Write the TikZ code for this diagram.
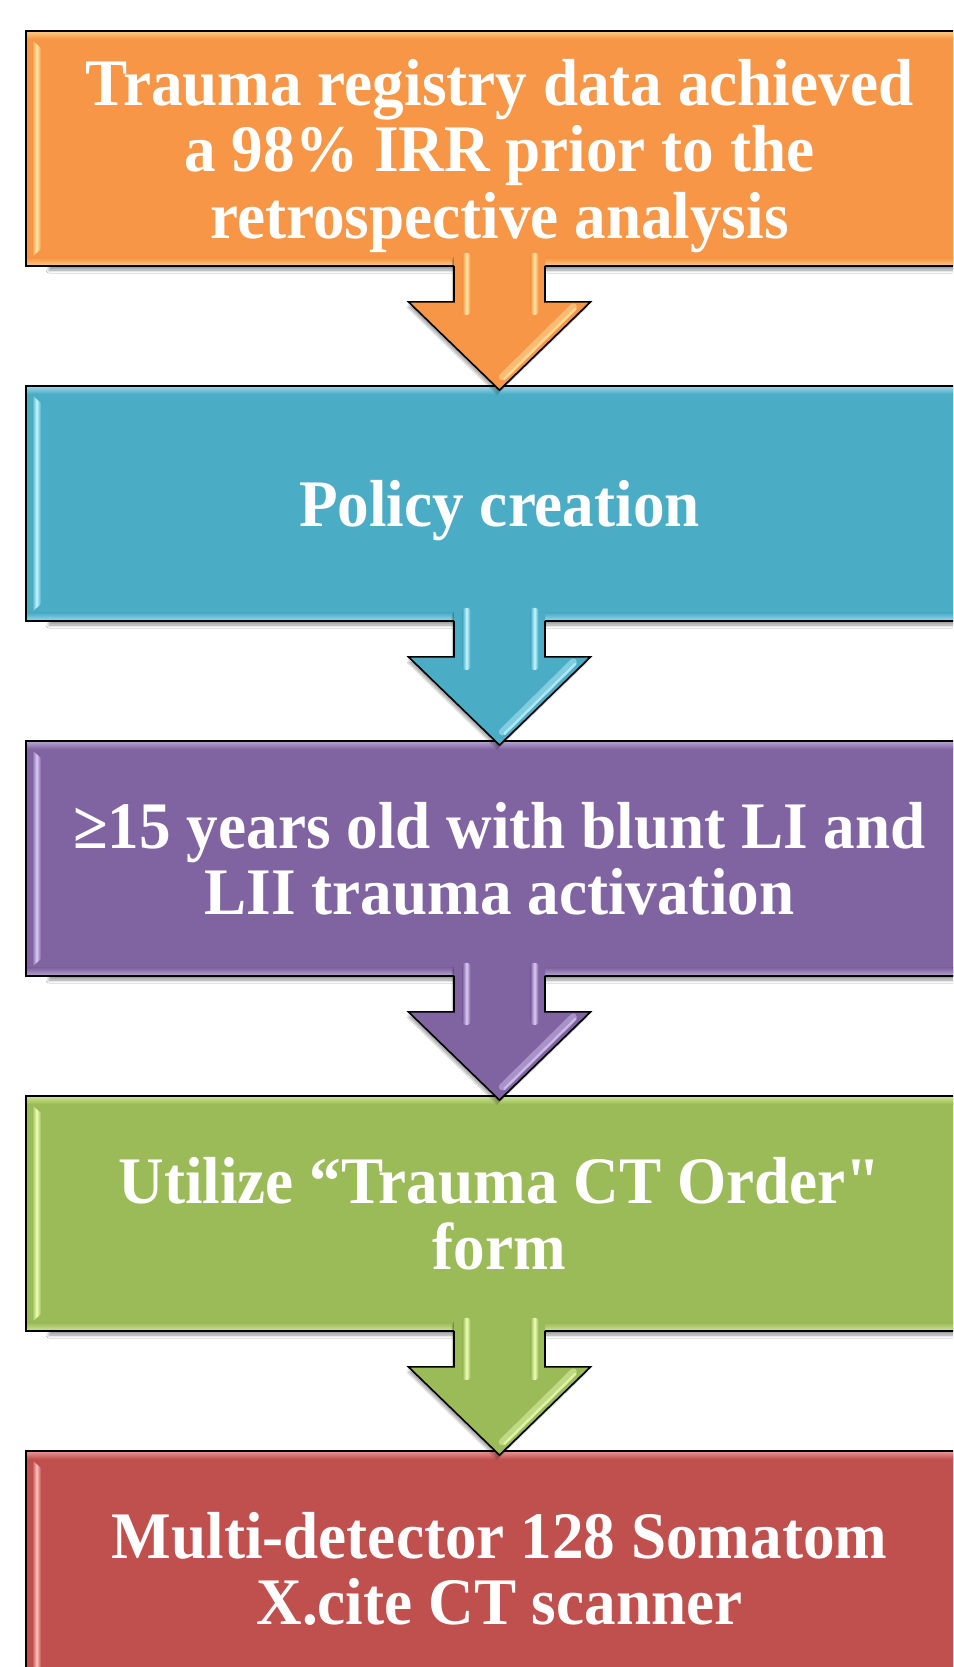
\documentclass[tikz,border=0pt]{standalone}
\usepackage{fontspec}
\newfontfamily\boxfont{Liberation Serif}[FakeStretch=0.95]
\usetikzlibrary{calc,shadows.blur}

% Office-style theme colours and their bevel highlights
\definecolor{orangeA}{HTML}{F79646}\definecolor{orangeL}{HTML}{FFE9A8}
\definecolor{blueA}{HTML}{4BACC6}\definecolor{blueL}{HTML}{C4F6FF}
\definecolor{purpleA}{HTML}{8064A2}\definecolor{purpleL}{HTML}{DCCBF5}
\definecolor{greenA}{HTML}{9BBB59}\definecolor{greenL}{HTML}{EEFFB8}
\definecolor{redA}{HTML}{C0504D}\definecolor{redL}{HTML}{FFC2BE}

\tikzset{
  flowbox/.style={draw=black, line width=1.8pt, minimum width=947pt,
    minimum height=235pt, inner sep=0pt, text=white, align=center,
    text depth=0pt,
    font=\boxfont\bfseries\fontsize{66.5}{66.5}\selectfont,
    blur shadow={shadow xshift=0pt, shadow yshift=-4pt,
      shadow blur radius=3pt, shadow opacity=40}},
  arrowline/.style={draw=black, line width=1.6pt, line join=miter},
  arrowshade/.style={black, opacity=0.12},
}

% bevel highlights inside a box: #1 node, #2 base colour, #3 light colour
\newcommand\bevelfx[3]{%
  \shade[top color=#3!55!#2, bottom color=#2]
    ($(#1.north west)+(2,2)$) rectangle ($(#1.north east)+(-2,9)$);
  \shade[top color=#2, bottom color=#3!55!#2]
    ($(#1.south west)+(2,-9)$) rectangle ($(#1.south east)+(-2,-2)$);
  \shade[left color=#2, right color=#2, middle color=#3]
    ($(#1.north west)+(7,10)$) -- ($(#1.north west)+(16,18)$)
    -- ($(#1.south west)+(16,-18)$) -- ($(#1.south west)+(7,-10)$) -- cycle;
}

% block arrow between two boxes: #1 from, #2 to, #3 base, #4 light
\newcommand\flowarrow[4]{%
  \coordinate (sl0) at ($(#1.south)+(-45.5,-12)$);
  \coordinate (sr0) at ($(#1.south)+(45.5,-12)$);
  \coordinate (sl1) at ($(#1.south)+(-45.5,35)$);
  \coordinate (sr1) at ($(#1.south)+(45.5,35)$);
  \coordinate (hl) at ($(#1.south)+(-91,35)$);
  \coordinate (hr) at ($(#1.south)+(91,35)$);
  \coordinate (tip) at ($(#2.north)+(0,5)$);
  % soft drop shadow
  \foreach \d in {2,3.5,5}{
    \fill[arrowshade] ($(sl0)+(-\d/2,\d)$) -- ($(sl1)+(-\d/2,\d)$)
      -- ($(hl)+(-\d/2,\d)$) -- ($(tip)+(-\d/2,\d)$) -- ($(hr)+(-\d/2,\d)$)
      -- ($(sr1)+(-\d/2,\d)$) -- ($(sr0)+(-\d/2,\d)$) -- cycle;
  }
  \fill[#3] (sl0) -- (sl1) -- (hl) -- (tip) -- (hr) -- (sr1) -- (sr0) -- cycle;
  \shade[left color=#3, right color=#3, middle color=#4, rounded corners=3pt]
    ($(#1.south)+(-37,-14)$) rectangle ($(#1.south)+(-29,48)$);
  \shade[left color=#3, right color=#3, middle color=#4, rounded corners=3pt]
    ($(#1.south)+(31,-14)$) rectangle ($(#1.south)+(39,48)$);
  \draw[#4, line width=7pt, opacity=0.45, line cap=round]
    ($(#1.south)+(73.8,40)$) -- ($(#1.south)+(2.8,110)$);
  \draw[#4, line width=2.5pt, opacity=0.7, line cap=round]
    ($(#1.south)+(76,42)$) -- ($(#1.south)+(5,112)$);
  \draw[arrowline] ($(#1.south)+(-45.5,-1)$) -- (sl1) -- (hl) -- (tip)
    -- (hr) -- (sr1) -- ($(#1.south)+(45.5,-1)$);
}

\begin{document}
\begin{tikzpicture}[x=1pt, y=-1pt, trim left=0pt, trim right=953pt]
  \useasboundingbox (0,0) rectangle (953,1667);
  \fill[white] (0,0) rectangle (953,1667);
  \clip (0,0) rectangle (953,1667);

  \node[flowbox, fill=orangeA] (b1) at (499.5,148.5)
    {Trauma registry data achieved\\a 98\% IRR prior to the\\retrospective analysis};
  \node[flowbox, fill=blueA] (b2) at (499.5,503.5) {Policy creation};
  \node[flowbox, fill=purpleA] (b3) at (499.5,858.5)
    {≥15 years old with blunt LI and\\LII trauma activation};
  \node[flowbox, fill=greenA] (b4) at (499.5,1213.5)
    {Utilize “Trauma CT Order"\\form};
  \node[flowbox, fill=redA] (b5) at (499.5,1568.5)
    {Multi-detector 128 Somatom\\X.cite CT scanner};

  \bevelfx{b1}{orangeA}{orangeL}
  \bevelfx{b2}{blueA}{blueL}
  \bevelfx{b3}{purpleA}{purpleL}
  \bevelfx{b4}{greenA}{greenL}
  \bevelfx{b5}{redA}{redL}

  \flowarrow{b1}{b2}{orangeA}{orangeL}
  \flowarrow{b2}{b3}{blueA}{blueL}
  \flowarrow{b3}{b4}{purpleA}{purpleL}
  \flowarrow{b4}{b5}{greenA}{greenL}
\end{tikzpicture}
\end{document}
